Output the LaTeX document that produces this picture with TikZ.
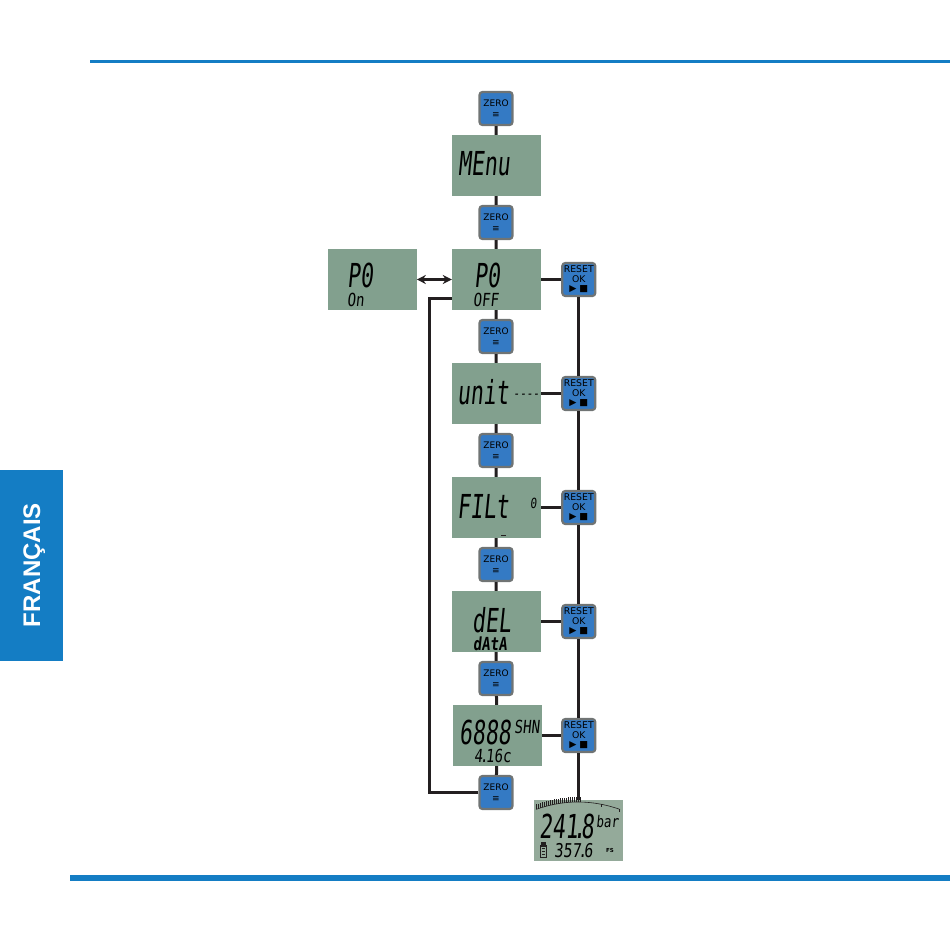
\documentclass[tikz,border=0pt]{standalone}
\usepackage{fontspec}
\setmainfont{Liberation Sans}
\newfontfamily\lcdfont[FakeStretch=0.65,FakeSlant=0.1]{DejaVu Sans Mono}
\newfontfamily\lcdsmall[FakeStretch=0.78,FakeSlant=0.1]{DejaVu Sans Mono}
\newfontfamily\keyfont{DejaVu Sans}
\newcommand{\segdot}{\makebox[3pt]{.}}
\usetikzlibrary{arrows.meta, positioning, calc}
\definecolor{pageblue}{RGB}{20,125,196}
\definecolor{keyblue}{RGB}{52,122,196}
\definecolor{keyrim}{RGB}{112,116,116}
\definecolor{lcdgreen}{RGB}{130,160,142}
\definecolor{lcdpale}{RGB}{148,170,154}
\definecolor{wire}{RGB}{35,31,32}
\tikzset{
  lcd/.style={rectangle, fill=lcdgreen, minimum width=89pt, minimum height=61pt, inner sep=0pt},
  key/.style={rectangle, rounded corners=3pt, draw=keyrim, line width=2.2pt, fill=keyblue, minimum width=33pt, minimum height=33pt, inner sep=0pt, align=center, text=black},
  zerokey/.style={key, font=\keyfont\fontsize{9}{11.5}\selectfont},
  resetkey/.style={key, font=\keyfont\fontsize{9.3}{9.6}\selectfont},
  bigseg/.style={inner sep=0pt, anchor=base west, text depth=0pt, font=\lcdfont\fontsize{33}{33}\selectfont},
  smallseg/.style={inner sep=0pt, anchor=base west, text depth=0pt, font=\lcdsmall\fontsize{18}{18}\selectfont},
  tinyseg/.style={inner sep=0pt, anchor=base west, text depth=0pt, font=\lcdsmall\fontsize{14}{14}\selectfont},
  wire/.style={draw=wire, line width=3pt},
  dblarrow/.style={{Stealth[length=9pt,width=9pt]}-{Stealth[length=9pt,width=9pt]}, draw=wire, line width=2.5pt}
}

\begin{document}
\begin{tikzpicture}[x=1pt, y=-1pt]
\useasboundingbox (0,0) rectangle (950,950);

% page frame
\draw[pageblue, line width=3pt] (90,61.3) -- (950,61.3);
\draw[pageblue, line width=6pt] (70,878) -- (950,878);
\fill[pageblue] (0,470) rectangle (63,661);
\node[rotate=90, anchor=base, inner sep=0pt, text=white, font=\bfseries\fontsize{24}{24}\selectfont] (tablabel) at (40,565) {FRANÇAIS};

% menu column
\node[zerokey] (z1) at (496,108.5) {ZERO\\≡};
\node[lcd] (menu) at (496.5,165.5) {};
\node[zerokey] (z2) at (496,222.5) {ZERO\\≡};
\node[lcd] (p0off) at (496.5,279.5) {};
\node[zerokey] (z3) at (496,336.5) {ZERO\\≡};
\node[lcd] (unit) at (496.5,393.5) {};
\node[zerokey] (z4) at (496,450.5) {ZERO\\≡};
\node[lcd] (filt) at (496.5,507.5) {};
\node[zerokey] (z5) at (496,564.5) {ZERO\\≡};
\node[lcd] (del) at (496.5,621.5) {};
\node[zerokey] (z6) at (496,678.5) {ZERO\\≡};
\node[lcd] (six) at (497.5,735.5) {};
\node[zerokey] (z7) at (496,792.5) {ZERO\\≡};

\node[lcd, left=35pt of p0off] (p0on) {};

% reset column
\node[resetkey, right=20pt of p0off] (r1) {RESET\\OK\\▶ ■};
\node[resetkey, right=20pt of unit] (r2) {RESET\\OK\\▶ ■};
\node[resetkey, right=20pt of filt] (r3) {RESET\\OK\\▶ ■};
\node[resetkey, right=20pt of del] (r4) {RESET\\OK\\▶ ■};
\node[resetkey, right=19pt of six] (r5) {RESET\\OK\\▶ ■};
\node[lcd, fill=lcdpale, below=47pt of r5] (live) {};

% display texts
\node[bigseg] (menutxt) at (458,175) {MEnu};
\node[bigseg] (p0offtxt) at (474,287) {P0};
\node[smallseg] (offtxt) at (473,306) {OFF};
\node[bigseg] (p0ontxt) at (347,287) {P0};
\node[smallseg] (ontxt) at (347,306) {On};
\node[bigseg] (unittxt) at (457,404) {unit};
\node[tinyseg] (unitdash) at (513,398) {----};
\node[bigseg] (filttxt) at (457,518) {FILt};
\node[tinyseg] (filtval) at (530,508) {0};
\draw[wire, line width=1pt] (501,535) -- (506,535);
\node[bigseg] (deltxt) at (472,632) {dEL};
\node[smallseg, font=\lcdsmall\bfseries\fontsize{18}{18}\selectfont] (datatxt) at (473,650) {dAtA};
\node[bigseg] (sixtxt) at (459,744) {6888};
\node[smallseg] (shntxt) at (514,733) {SHN};
\node[smallseg] (voltxt) at (474,762) {4\segdot16c};
\node[bigseg] (readtxt) at (539,838) {241\segdot8};
\node[tinyseg, font=\lcdsmall\fontsize{16}{16}\selectfont] (bartxt) at (596,827) {bar};
\node[smallseg, font=\lcdsmall\fontsize{19}{19}\selectfont] (fsvtxt) at (554,857) {357\segdot6};
\node[inner sep=0pt, anchor=base west, font=\keyfont\bfseries\fontsize{5.5}{6}\selectfont] (fstxt) at (606,852) {FS};

% battery
\draw[wire, line width=0.8pt] (540.5,845.5) rectangle (546,857);
\fill[wire] (542,843.5) rectangle (544.5,845.5);
\foreach \b in {848,851,854}
  \draw[wire, line width=0.8pt] (541.5,\b) -- (545,\b);

% bar graph
\draw[wire, line width=0.6pt] plot[domain=536:620, samples=30] (\x,{802+0.0042*(\x-578)^2});
\foreach \t in {536,538,...,580}
  \draw[wire, line width=0.7pt] (\t,{802+0.0042*(\t-578)^2}) -- ++(0,-5);
\foreach \t in {601,619}
  \draw[wire, line width=0.7pt] (\t,{802+0.0042*(\t-578)^2}) -- ++(0,2.5);

% connectors
\draw[wire] (z1) -- (menu);
\draw[wire] (menu) -- (z2);
\draw[wire] (z2) -- (p0off);
\draw[wire] (p0off) -- (z3);
\draw[wire] (z3) -- (unit);
\draw[wire] (unit) -- (z4);
\draw[wire] (z4) -- (filt);
\draw[wire] (filt) -- (z5);
\draw[wire] (z5) -- (del);
\draw[wire] (del) -- (z6);
\draw[wire] (z6) -- (six);
\draw[wire] (six) -- (z7);
\draw[wire] (z7.west) -| ($(p0off.west)+(-22,19)$) -- ($(p0off.west)+(0,19)$);
\draw[dblarrow] (p0on) -- (p0off);

\draw[wire] (p0off) -- (r1);
\draw[wire] (unit) -- (r2);
\draw[wire] (filt) -- (r3);
\draw[wire] (del) -- (r4);
\draw[wire] (six) -- (r5);
\draw[wire] (r1) -- (r2);
\draw[wire] (r2) -- (r3);
\draw[wire] (r3) -- (r4);
\draw[wire] (r4) -- (r5);
\draw[wire] (r5) -- (live);

\end{tikzpicture}
\end{document}
